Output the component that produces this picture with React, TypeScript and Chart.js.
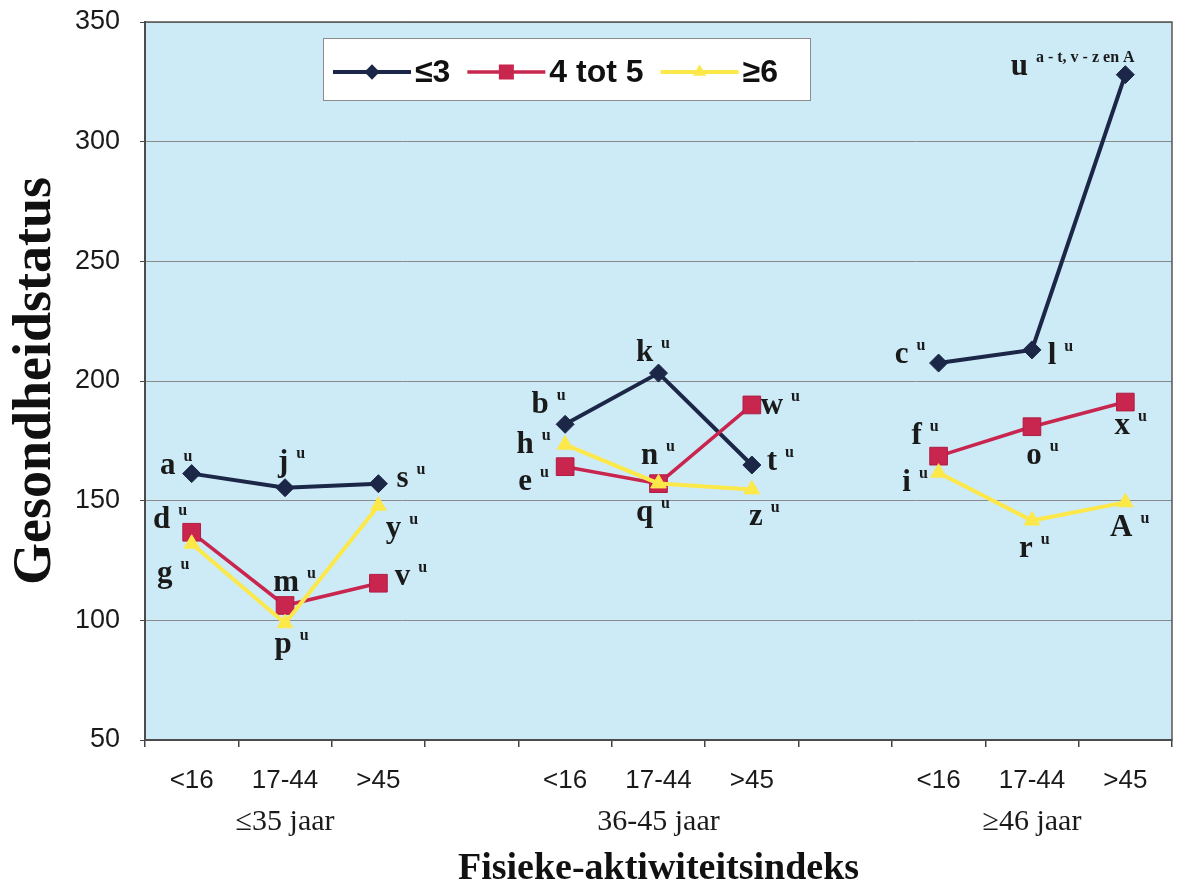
import React, { useEffect, useRef } from 'react';
import { Chart, registerables } from 'chart.js';

Chart.register(...registerables);

// ---- data ----
const categories = ['<16', '17-44', '>45', '', '<16', '17-44', '>45', '', '<16', '17-44', '>45'];
const ageGroups = ['', '≤35 jaar', '', '', '', '36-45 jaar', '', '', '', '≥46 jaar', ''];
const seriesNames = ['≤3', '4 tot 5', '≥6'];
const lowValues = [161.3, 155.4, 157.1, null, 181.9, 203.3, 164.9, null, 207.5, 213, 328];
const midValues = [136.8, 106.2, 115.5, null, 164.2, 157.1, 190, null, 168.6, 180.9, 191.2];
const highValues = [132, 98.8, 147.9, null, 173.4, 157.2, 154.7, null, 161.7, 141.7, 149.3];
const yTickValues = [50, 100, 150, 200, 250, 300, 350];

const lowLetters = ['a', 'j', 's', null, 'b', 'k', 't', null, 'c', 'l', 'u'];
const midLetters = ['d', 'm', 'v', null, 'e', 'n', 'w', null, 'f', 'o', 'x'];
const highLetters = ['g', 'p', 'y', null, 'h', 'q', 'z', null, 'i', 'r', 'A'];
const lowSup = ['u', 'u', 'u', null, 'u', 'u', 'u', null, 'u', 'u', 'a - t, v - z en A'];
const midSup = ['u', 'u', 'u', null, 'u', 'u', 'u', null, 'u', 'u', 'u'];
const highSup = ['u', 'u', 'u', null, 'u', 'u', 'u', null, 'u', 'u', 'u'];

// ---- label layout (offsets of letter centre from its point, px) ----
const lowOffsets = [[-24, -8], [-2, -25], [24, -5], null, [-25, -19], [-14, -20], [20, -3], null, [-37, -8], [20, 6], [-106, -8]];
const midOffsets = [[-30, -12], [1, -22], [24, -6], null, [-40, 15], [-9, -28], [20, 1], null, [-22, -20], [2, 29], [-3, 24]];
const highOffsets = [[-27, 30], [-2, 22], [15, 23], null, [-40, 0], [-14, 30], [4, 28], null, [-32, 10], [-6, 28], [-4, 26]];

// ---- styles ----
const NAVY = '#1c2647';
const RED = '#c9264f';
const YELLOW = '#fde84a';
const PLOT_BG = '#ccebf7';

function drawMarker(ctx: CanvasRenderingContext2D, style: string, x: number, y: number, r: number, color: string) {
  ctx.save();
  ctx.fillStyle = color;
  ctx.beginPath();
  if (style === 'rectRot') {
    ctx.moveTo(x, y - r);
    ctx.lineTo(x + r, y);
    ctx.lineTo(x, y + r);
    ctx.lineTo(x - r, y);
    ctx.closePath();
  } else if (style === 'rect') {
    const s = r * Math.SQRT1_2;
    ctx.rect(x - s, y - s, 2 * s, 2 * s);
  } else {
    for (let k = 0; k < 3; k++) {
      const a = (k * 2 * Math.PI) / 3;
      const px = x + Math.sin(a) * r;
      const py = y - Math.cos(a) * r;
      if (k === 0) ctx.moveTo(px, py);
      else ctx.lineTo(px, py);
    }
    ctx.closePath();
  }
  ctx.fill();
  ctx.restore();
}

const backgroundPlugin = {
  id: 'plotBackground',
  beforeDraw(chart: any) {
    const { ctx, chartArea } = chart;
    ctx.save();
    ctx.fillStyle = PLOT_BG;
    ctx.fillRect(chartArea.left, chartArea.top, chartArea.right - chartArea.left, chartArea.bottom - chartArea.top);
    ctx.restore();
  },
  beforeDatasetsDraw(chart: any) {
    const { ctx, chartArea } = chart;
    ctx.save();
    ctx.strokeStyle = '#555';
    ctx.lineWidth = 1.5;
    ctx.strokeRect(chartArea.left, chartArea.top, chartArea.right - chartArea.left, chartArea.bottom - chartArea.top);
    ctx.restore();
  },
};

const letterPlugin = {
  id: 'pointLetters',
  afterDatasetsDraw(chart: any) {
    const ctx: CanvasRenderingContext2D = chart.ctx;
    ctx.save();
    chart.data.datasets.forEach((ds: any, i: number) => {
      const meta = chart.getDatasetMeta(i);
      meta.data.forEach((pt: any, j: number) => {
        const letter = ds.letters[j];
        if (!letter) return;
        const off = ds.letterOffsets[j];
        const cx = pt.x + off[0];
        const base = pt.y + off[1] + 8;
        ctx.font = 'bold 31px "Liberation Serif"';
        ctx.fillStyle = '#1a1a1a';
        ctx.textAlign = 'center';
        ctx.textBaseline = 'alphabetic';
        ctx.fillText(letter, cx, base);
        const w = ctx.measureText(letter).width;
        const sup = ds.sups[j];
        if (sup) {
          ctx.font = 'bold 16px "Liberation Serif"';
          ctx.textAlign = 'left';
          ctx.fillText(sup, cx + w / 2 + 8, base - 13);
        }
      });
    });
    ctx.restore();
  },
};

const legendPlugin = {
  id: 'insideLegend',
  afterDatasetsDraw(chart: any) {
    const ctx: CanvasRenderingContext2D = chart.ctx;
    const { chartArea } = chart;
    const x0 = chartArea.left + 178;
    const y0 = chartArea.top + 16;
    const w = 487;
    const h = 62;
    ctx.save();
    ctx.fillStyle = '#ffffff';
    ctx.fillRect(x0, y0, w, h);
    ctx.strokeStyle = '#8c8c8c';
    ctx.lineWidth = 1;
    ctx.strokeRect(x0 + 0.5, y0 + 0.5, w, h);
    const cy = y0 + 34;
    let x = x0 + 10;
    ctx.font = 'bold 32px "Liberation Sans"';
    ctx.textBaseline = 'middle';
    ctx.textAlign = 'left';
    chart.data.datasets.forEach((ds: any) => {
      ctx.strokeStyle = ds.borderColor;
      ctx.lineWidth = ds.borderWidth;
      ctx.beginPath();
      ctx.moveTo(x, cy);
      ctx.lineTo(x + 78, cy);
      ctx.stroke();
      drawMarker(ctx, ds.pointStyle, x + 39, cy, ds.pointRadius * 0.85, ds.pointBackgroundColor);
      x += 82;
      ctx.fillStyle = '#111';
      ctx.fillText(ds.label, x, cy + 1);
      x += ctx.measureText(ds.label).width + 17;
    });
    ctx.restore();
  },
};

export default function App() {
  const canvasRef = useRef<HTMLCanvasElement | null>(null);

  useEffect(() => {
    const canvas = canvasRef.current;
    if (!canvas) return;
    const chart = new Chart(canvas, {
      type: 'line',
      data: {
        labels: categories,
        datasets: [
          {
            label: seriesNames[0],
            data: lowValues,
            borderColor: NAVY,
            backgroundColor: NAVY,
            pointBackgroundColor: NAVY,
            pointBorderColor: NAVY,
            borderWidth: 4,
            pointStyle: 'rectRot',
            pointRadius: 9,
            pointBorderWidth: 1,
            order: 3,
            letters: lowLetters,
            sups: lowSup,
            letterOffsets: lowOffsets,
          } as any,
          {
            label: seriesNames[1],
            data: midValues,
            borderColor: RED,
            backgroundColor: RED,
            pointBackgroundColor: RED,
            pointBorderColor: '#b01c44',
            borderWidth: 3.5,
            pointStyle: 'rect',
            pointRadius: 12.5,
            pointBorderWidth: 1,
            order: 2,
            letters: midLetters,
            sups: midSup,
            letterOffsets: midOffsets,
          } as any,
          {
            label: seriesNames[2],
            data: highValues,
            borderColor: YELLOW,
            backgroundColor: YELLOW,
            pointBackgroundColor: YELLOW,
            pointBorderColor: YELLOW,
            borderWidth: 4,
            pointStyle: 'triangle',
            pointRadius: 9,
            pointBorderWidth: 1,
            order: 1,
            letters: highLetters,
            sups: highSup,
            letterOffsets: highOffsets,
          } as any,
        ],
      },
      options: {
        responsive: false,
        animation: false,
        spanGaps: false,
        layout: { padding: { top: 22, right: 17, left: 0, bottom: 0 } },
        plugins: {
          legend: { display: false },
          tooltip: { enabled: false },
        },
        scales: {
          x: {
            type: 'category',
            position: 'bottom',
            weight: 0,
            offset: true,
            grid: { offset: true, drawOnChartArea: false, tickLength: 7, color: '#444', lineWidth: 1.5 },
            border: { display: true, color: '#333', width: 2 },
            ticks: {
              autoSkip: false,
              maxRotation: 0,
              minRotation: 0,
              padding: 18,
              color: '#1a1a1a',
              font: { family: '"Liberation Sans"', size: 26, lineHeight: 1.2 },
            },
            afterFit: (s: any) => {
              s.height = 60;
              s.paddingLeft = 0;
              s.paddingRight = 0;
            },
          },
          x2: {
            type: 'category',
            position: 'bottom',
            weight: 1,
            labels: ageGroups,
            offset: true,
            grid: { display: false, drawTicks: false, drawOnChartArea: false },
            border: { display: false },
            ticks: {
              autoSkip: false,
              maxRotation: 0,
              minRotation: 0,
              padding: 4,
              color: '#1a1a1a',
              font: { family: '"Liberation Serif"', size: 30, lineHeight: 1.2 },
            },
            title: {
              display: true,
              text: 'Fisieke-aktiwiteitsindeks',
              color: '#111',
              font: { family: '"Liberation Serif"', size: 38, weight: 'bold', lineHeight: 1 },
              padding: { top: 0, bottom: 0 },
            },
            afterFit: (s: any) => {
              s.height = 88;
              s.paddingLeft = 0;
              s.paddingRight = 0;
            },
          },
          y: {
            type: 'linear',
            min: yTickValues[0],
            max: yTickValues[yTickValues.length - 1],
            afterBuildTicks: (s: any) => {
              s.ticks = yTickValues.map((v) => ({ value: v }));
            },
            grid: { color: '#8a8a8a', lineWidth: 1, tickLength: 5, tickColor: '#444' },
            border: { display: true, color: '#333', width: 2 },
            ticks: {
              padding: 20,
              color: '#1a1a1a',
              font: { family: '"Liberation Sans"', size: 27 },
            },
            title: {
              display: true,
              text: 'Gesondheidstatus',
              color: '#111',
              font: { family: '"Liberation Serif"', size: 54, weight: 'bold', lineHeight: 1 },
              padding: { top: 9, bottom: 0 },
            },
            afterFit: (s: any) => {
              s.width = 145;
              s.paddingTop = 0;
              s.paddingBottom = 0;
            },
          },
        },
      } as any,
      plugins: [backgroundPlugin, legendPlugin, letterPlugin],
    });
    return () => chart.destroy();
  }, []);

  return (
    <div style={{ position: 'absolute', left: 0, top: 0, width: 1189, height: 888, background: '#fff' }}>
      <canvas ref={canvasRef} width={1189} height={888} style={{ display: 'block' }} />
    </div>
  );
}
